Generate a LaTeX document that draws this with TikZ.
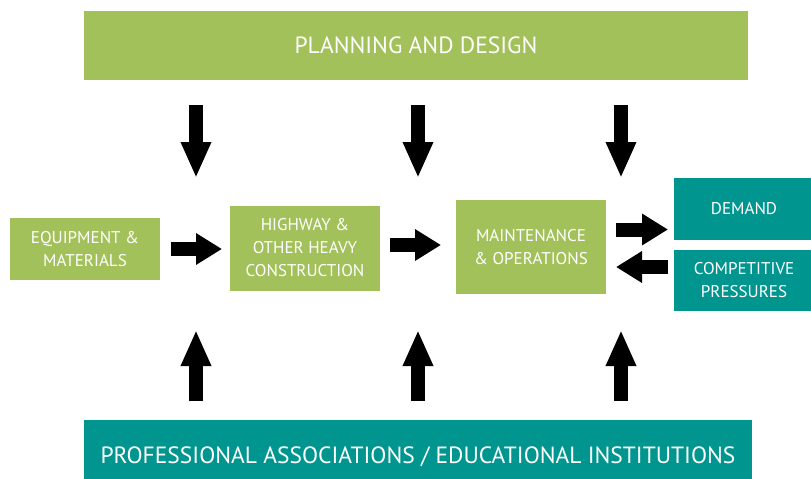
\documentclass[tikz,border=0pt]{standalone}
\usepackage{fontspec}
\setmainfont{PT Sans}
\usetikzlibrary{arrows.meta}
\definecolor{cgreen}{HTML}{A3C15A}
\definecolor{cteal}{HTML}{00968F}
\begin{document}
\begin{tikzpicture}[x=1pt,y=-1pt,
  box/.style={fill=#1,draw=none,text=white,align=center,inner sep=0pt,font=\fontsize{17}{23}\selectfont},
  bigtext/.style={font=\fontsize{23.5}{28}\selectfont},
  barrow/.style={line width=14pt,-{Triangle[width=30pt,length=26pt]},line cap=butt},
  varrow/.style={line width=14pt,-{Triangle[width=28pt,length=36pt]},line cap=butt}]
\useasboundingbox[fill=white] (0,0) rectangle (811,479);
% boxes
\node[box=cgreen,minimum width=664pt,minimum height=69pt,bigtext] (plan) at (416,45.5) {PLANNING AND DESIGN};
\node[box=cgreen,minimum width=150pt,minimum height=62pt] (equip) at (85,249) {EQUIPMENT \&\\MATERIALS};
\node[box=cgreen,minimum width=150pt,minimum height=85pt] (hw) at (305,248) {HIGHWAY \&\\OTHER HEAVY\\CONSTRUCTION};
\node[box=cgreen,minimum width=150pt,minimum height=94pt] (mo) at (531,247) {MAINTENANCE\\\& OPERATIONS};
\node[box=cteal,minimum width=140pt,minimum height=62pt] (dem) at (744,209) {DEMAND};
\node[box=cteal,minimum width=140pt,minimum height=61pt] (comp) at (744,280.5) {COMPETITIVE\\PRESSURES};
\node[box=cteal,minimum width=668pt,minimum height=74pt,bigtext] (prof) at (418,457) {PROFESSIONAL ASSOCIATIONS / EDUCATIONAL INSTITUTIONS};
% arrow endpoints
\coordinate (d1s) at (196,105); \coordinate (d1e) at (196,178);
\coordinate (d2s) at (418,105); \coordinate (d2e) at (418,178);
\coordinate (d3s) at (621,105); \coordinate (d3e) at (621,178);
\coordinate (u1s) at (196,401); \coordinate (u1e) at (196,330);
\coordinate (u2s) at (418,401); \coordinate (u2e) at (418,330);
\coordinate (u3s) at (621,401); \coordinate (u3e) at (621,330);
\coordinate (r1s) at (171,249); \coordinate (r1e) at (222,249);
\coordinate (r2s) at (390,245); \coordinate (r2e) at (441,245);
\coordinate (r3s) at (616,229.5); \coordinate (r3e) at (668,229.5);
\coordinate (l1s) at (668,267); \coordinate (l1e) at (616,267);
% arrows
\foreach \a in {d1,d2,d3,u1,u2,u3} \draw[varrow] (\a s) -- (\a e);
\foreach \a in {r1,r2,r3,l1} \draw[barrow] (\a s) -- (\a e);
\end{tikzpicture}
\end{document}
